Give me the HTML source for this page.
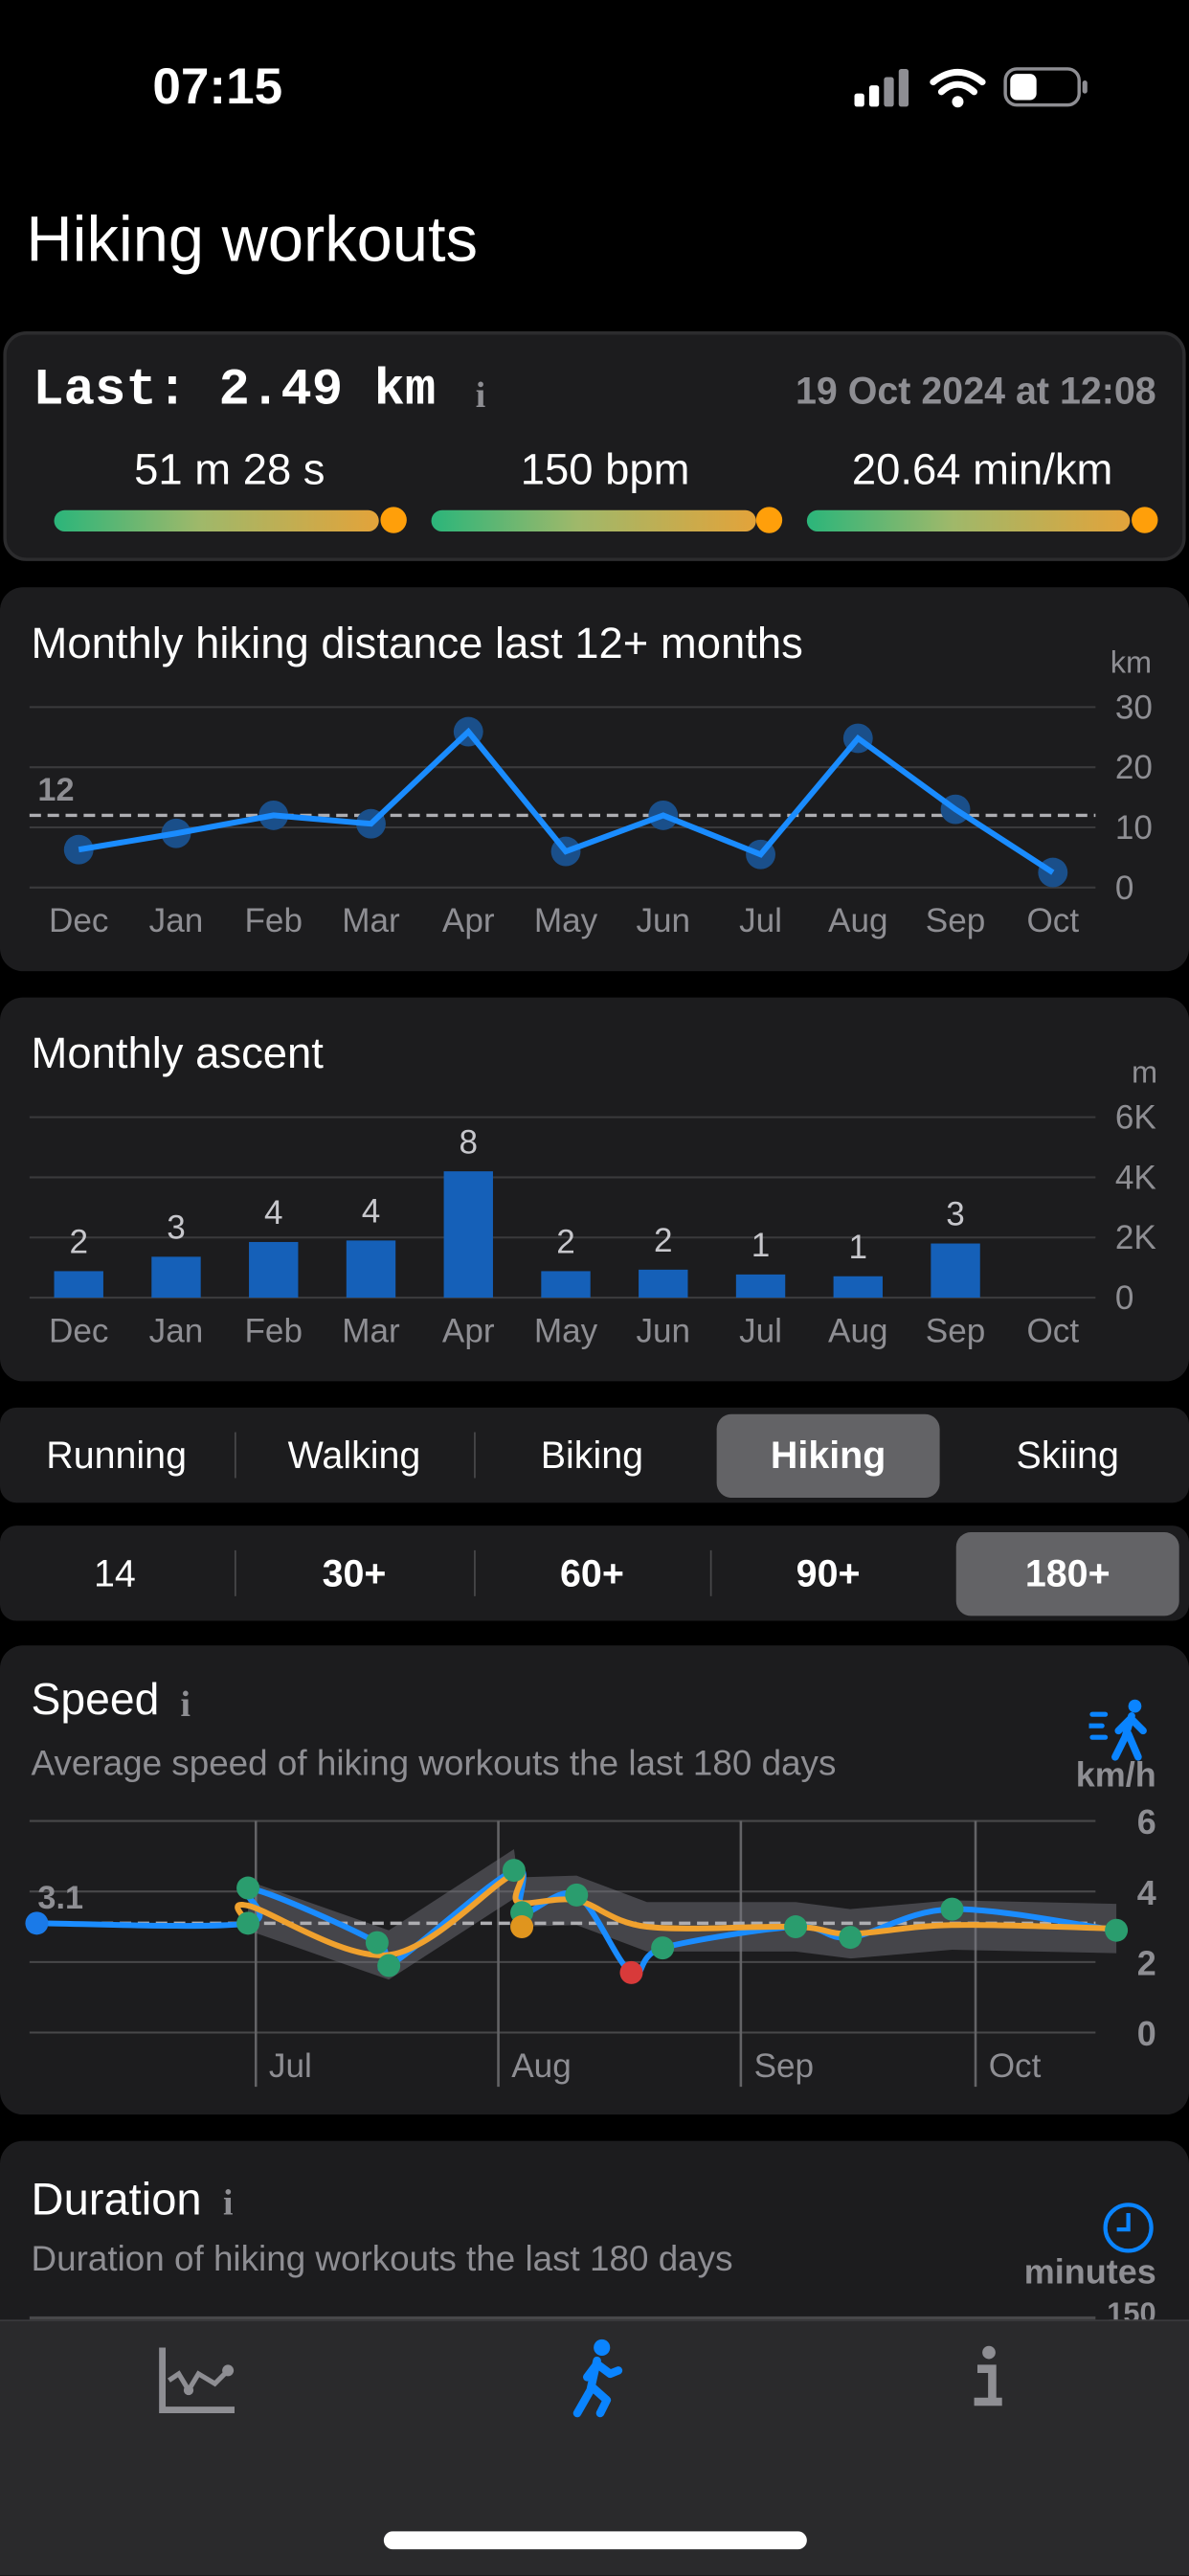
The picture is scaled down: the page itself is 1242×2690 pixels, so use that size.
<!DOCTYPE html>
<html><head><meta charset="utf-8">
<style>
html,body{margin:0;padding:0;background:#000;}
body{width:1242px;height:2688px;overflow:hidden;position:relative;}
#root{position:absolute;left:0;top:0;width:725px;height:1569px;transform:scale(1.71310);transform-origin:0 0;font-family:"Liberation Sans",sans-serif;color:#fff;}
.abs{position:absolute;}
.card{position:absolute;background:#1c1c1e;border-radius:14px;}
.t{position:absolute;white-space:nowrap;}
.grey{color:#8e8e93;}
.seg{position:absolute;left:0;width:725px;height:58px;background:#1c1c1e;border-radius:10px;}
.seg .sel{position:absolute;background:#636366;border-radius:9px;}
.seg .lbl{position:absolute;width:140px;text-align:center;font-size:23px;top:16px;}
.seg .sep{position:absolute;top:15px;width:1px;height:28px;background:#48484a;}
.bar{position:absolute;height:13px;border-radius:7px;background:linear-gradient(90deg,#2bb57a,#9fb86a 45%,#e3a33a);}
.dot{position:absolute;width:16px;height:16px;border-radius:8px;background:#ff9f0a;}
</style></head>
<body>
<div id="root">
  <div class="t" style="left:93px;top:35px;font-size:31px;font-weight:bold;">07:15</div>
  <svg class="abs" style="left:515px;top:38px" width="160" height="30">
    <rect x="6" y="19" width="6" height="8" rx="1.5" fill="#fff"/><rect x="15" y="14" width="6" height="13" rx="1.5" fill="#fff"/><rect x="24" y="9" width="6" height="18" rx="1.5" fill="#8e8e93"/><rect x="33" y="4" width="6" height="23" rx="1.5" fill="#8e8e93"/>
    <path d="M54 12 Q69 0 84 12" stroke="#fff" stroke-width="4" fill="none" stroke-linecap="round"/><path d="M59 18 Q69 9 79 18" stroke="#fff" stroke-width="4" fill="none" stroke-linecap="round"/><circle cx="69" cy="24" r="3.5" fill="#fff"/>
    <rect x="98" y="4" width="45" height="22" rx="7" fill="none" stroke="#8e8e93" stroke-width="2"/><rect x="101" y="7" width="16" height="16" rx="4" fill="#fff"/><rect x="145" y="11" width="3" height="8" rx="1.5" fill="#8e8e93"/>
  </svg>
  <div class="t" style="left:16px;top:125px;font-size:39px;">Hiking workouts</div>

  <div class="card" style="left:2px;top:202px;width:717px;height:136px;border:2px solid #2c2c2e;"></div>
  <div class="t" style="left:20px;top:221px;font-family:'Liberation Mono',monospace;font-weight:bold;font-size:31.5px;">Last: 2.49 km</div>
  <div class="t grey" style="left:290px;top:228px;font-family:'Liberation Serif',serif;font-size:22px;font-weight:bold;">i</div>
  <div class="t grey" style="right:20px;top:225px;font-size:23px;font-weight:bold;">19 Oct 2024 at 12:08</div>
  <div class="t" style="left:40px;width:200px;text-align:center;top:271px;font-size:26.5px;">51 m 28 s</div>
  <div class="t" style="left:269px;width:200px;text-align:center;top:271px;font-size:26.5px;">150 bpm</div>
  <div class="t" style="left:499px;width:200px;text-align:center;top:271px;font-size:26.5px;">20.64 min/km</div>
  <div class="bar" style="left:33px;top:311px;width:198px;"></div><div class="dot" style="left:232px;top:309px;"></div>
  <div class="bar" style="left:263px;top:311px;width:198px;"></div><div class="dot" style="left:461px;top:309px;"></div>
  <div class="bar" style="left:492px;top:311px;width:197px;"></div><div class="dot" style="left:690px;top:309px;"></div>

  <div class="card" style="left:0;top:358px;width:725px;height:234px;"></div>
  <div class="t" style="left:19px;top:377px;font-size:26.5px;">Monthly hiking distance last 12+ months</div>
  <div class="t grey" style="left:677px;top:394px;font-size:19px;">km</div>

  <div class="card" style="left:0;top:608px;width:725px;height:234px;"></div>
  <div class="t" style="left:19px;top:627px;font-size:26.5px;">Monthly ascent</div>
  <div class="t grey" style="left:690px;top:644px;font-size:19px;">m</div>

  <div class="seg" style="top:858px;">
    <div class="sel" style="left:437px;top:4px;width:136px;height:51px;"></div>
    <div class="lbl" style="left:1px;">Running</div>
    <div class="lbl" style="left:146px;">Walking</div>
    <div class="lbl" style="left:291px;">Biking</div>
    <div class="lbl" style="left:435px;font-weight:bold;">Hiking</div>
    <div class="lbl" style="left:581px;">Skiing</div>
    <div class="sep" style="left:143px"></div><div class="sep" style="left:289px"></div>
  </div>
  <div class="seg" style="top:930px;">
    <div class="sel" style="left:583px;top:4px;width:136px;height:51px;"></div>
    <div class="lbl" style="left:0px;">14</div>
    <div class="lbl" style="left:146px;font-weight:bold;">30+</div>
    <div class="lbl" style="left:291px;font-weight:bold;">60+</div>
    <div class="lbl" style="left:435px;font-weight:bold;">90+</div>
    <div class="lbl" style="left:581px;font-weight:bold;">180+</div>
    <div class="sep" style="left:143px"></div><div class="sep" style="left:289px"></div><div class="sep" style="left:433px"></div>
  </div>

  <div class="card" style="left:0;top:1003px;width:725px;height:286px;"></div>
  <div class="t" style="left:19px;top:1021px;font-size:27px;">Speed</div>
  <div class="t grey" style="left:110px;top:1026px;font-family:'Liberation Serif',serif;font-size:22px;font-weight:bold;">i</div>
  <div class="t grey" style="left:19px;top:1063px;font-size:21.5px;">Average speed of hiking workouts the last 180 days</div>
  <svg class="abs" style="left:664px;top:1035px" width="42" height="40">
    <circle cx="28" cy="5" r="4" fill="#0a84ff"/><path d="M26 11 L22 24 L16 36 M24 22 L30 36 M26 13 L33 20 M25 13 L18 20" stroke="#0a84ff" stroke-width="4.5" fill="none" stroke-linecap="round"/>
    <path d="M2 10h8M0 17h8M2 24h8" stroke="#0a84ff" stroke-width="3" stroke-linecap="round"/>
  </svg>
  <div class="t grey" style="right:20px;top:1071px;font-size:21px;font-weight:bold;">km/h</div>

  <div class="card" style="left:0;top:1305px;width:725px;height:264px;"></div>
  <div class="t" style="left:19px;top:1325px;font-size:27.5px;">Duration</div>
  <div class="t grey" style="left:136px;top:1330px;font-family:'Liberation Serif',serif;font-size:22px;font-weight:bold;">i</div>
  <div class="t grey" style="left:19px;top:1365px;font-size:21.5px;">Duration of hiking workouts the last 180 days</div>
  <svg class="abs" style="left:671px;top:1341px" width="34" height="34"><circle cx="17" cy="17" r="14" stroke="#0a84ff" stroke-width="2.5" fill="none"/><path d="M17 8v10h-7" stroke="#0a84ff" stroke-width="2.5" fill="none"/></svg>
  <div class="t grey" style="right:20px;top:1374px;font-size:21px;font-weight:bold;">minutes</div>
  <div class="t grey" style="right:20px;top:1400px;font-size:18px;font-weight:bold;">150</div>
  <div class="abs" style="left:18px;top:1412px;width:650px;height:2px;background:#48484a;"></div>

  <svg id="charts" class="abs" style="left:0;top:0" width="725" height="1569"></svg>

  <div class="abs" style="left:0;top:1414px;width:725px;height:155px;background:#2a2a2c;border-top:1px solid #3a3a3c;">
    <svg class="abs" style="left:95px;top:14px" width="52" height="44"><path d="M4 2V40H48" stroke="#8e8e93" stroke-width="4" fill="none"/><path d="M8 22 L14 18 L20 28 L26 18 L36 24 L44 16" stroke="#8e8e93" stroke-width="3" fill="none"/><circle cx="20" cy="28" r="3" fill="#8e8e93"/><circle cx="44" cy="16" r="3.5" fill="#8e8e93"/></svg>
    <svg class="abs" style="left:340px;top:10px" width="44" height="50"><circle cx="27" cy="6" r="5" fill="#0a84ff"/><path d="M24 14 L20 32 L12 46 M21 30 L30 38 L26 46 M24 16 L32 22 L37 20 M24 16 L18 24" stroke="#0a84ff" stroke-width="5" fill="none" stroke-linecap="round" stroke-linejoin="round"/></svg>
    <svg class="abs" style="left:590px;top:14px" width="26" height="40"><circle cx="13" cy="5" r="4" fill="#8e8e93"/><path d="M6 15h9v20M4 35h17" stroke="#8e8e93" stroke-width="5" fill="none"/></svg>
  </div>
  <div class="abs" style="left:234px;top:1543px;width:258px;height:11px;border-radius:6px;background:#fff;"></div>
</div>
<script>
const distMonths=["Dec","Jan","Feb","Mar","Apr","May","Jun","Jul","Aug","Sep","Oct"];
const distValues=[6.3,9,12,10.6,25.9,6,12,5.5,24.8,13,2.5];
const distTicks=[0,10,20,30];
const distAvg=12;
const ascentMonths=["Dec","Jan","Feb","Mar","Apr","May","Jun","Jul","Aug","Sep","Oct"];
const ascentValues=[880,1360,1850,1900,4200,880,930,770,710,1800,0];
const ascentCounts=["2","3","4","4","8","2","2","1","1","3",""];
const ascentTicks=[0,2000,4000,6000];
const ascentTickLabels=["0","2K","4K","6K"];
const speedDays=[-28,-1,-1,15.5,17,33,34,41,48,52,69,76,89,110];
const speedValues=[3.1,3.1,4.1,2.55,1.9,4.6,3.4,3.9,1.7,2.4,3.0,2.7,3.5,2.9];
const speedDotKinds=["blue","green","green","green","green","green","green","green","red","green","green","green","green","green"];
const trendDays=[-1,-1,17,33,33.5,41,50,69,76,89,110];
const trendValues=[3.1,3.6,2.2,4.5,3.7,3.75,3.0,3.0,2.8,3.05,2.95];
const trendBand=0.7;
const speedTicks=[0,2,4,6];
const speedAvg=3.1;
const monthStartDays=[0,31,62,92];
const monthStartLabels=["Jul","Aug","Sep","Oct"];

const NS="http://www.w3.org/2000/svg";
const svg=document.getElementById('charts');
function mk(tag,attrs,parent){const e=document.createElementNS(NS,tag);for(const k in attrs)e.setAttribute(k,attrs[k]);(parent||svg).appendChild(e);return e;}
function txt(x,y,s,attrs){const e=mk('text',Object.assign({x:x,y:y,fill:'#8e8e93','font-family':'Liberation Sans, sans-serif'},attrs));e.textContent=s;return e;}
function smooth(pts){let d='M'+pts[0][0]+' '+pts[0][1];for(let i=0;i<pts.length-1;i++){const p0=pts[Math.max(0,i-1)],p1=pts[i],p2=pts[i+1],p3=pts[Math.min(pts.length-1,i+2)];const c1x=p1[0]+(p2[0]-p0[0])/6,c1y=p1[1]+(p2[1]-p0[1])/6,c2x=p2[0]-(p3[0]-p1[0])/6,c2y=p2[1]-(p3[1]-p1[1])/6;d+=' C'+c1x+' '+c1y+' '+c2x+' '+c2y+' '+p2[0]+' '+p2[1];}return d;}

const dx=i=>48+i*59.4, dy=v=>541-v*(110/30);
distTicks.forEach(t=>{const l=mk('line',{x1:18,x2:668,y1:dy(t),y2:dy(t),stroke:'#3a3a3c','stroke-width':1.2});


const tx=txt(680,dy(t)+7,String(t),{'font-size':20.5});

});
const da=mk('line',{x1:18,x2:668,y1:dy(distAvg),y2:dy(distAvg),stroke:'#aeaeb2','stroke-width':2,'stroke-dasharray':'7 4'});


const dal=txt(23,dy(distAvg)-9,String(distAvg),{'font-size':20,'font-weight':'bold'});


distValues.forEach((v,i)=>{const c=mk('circle',{cx:dx(i),cy:dy(v),r:9,fill:'#1a4f8a'});

});
const dl=mk('polyline',{points:distValues.map((v,i)=>dx(i)+','+dy(v)).join(' '),fill:'none',stroke:'#1a8cff','stroke-width':3.5});


distMonths.forEach((m,i)=>{const t=txt(dx(i),568,m,{'font-size':20.5,'text-anchor':'middle'});

});

const ax=i=>48+i*59.4, ay=v=>791-v*(110/6000);
ascentTicks.forEach((t,i)=>{const l=mk('line',{x1:18,x2:668,y1:ay(t),y2:ay(t),stroke:'#3a3a3c','stroke-width':1.2});


const tx=txt(680,ay(t)+7,ascentTickLabels[i],{'font-size':20.5});

});
ascentValues.forEach((v,i)=>{if(v>0){const r=mk('rect',{x:ax(i)-15,y:ay(v),width:30,height:ay(0)-ay(v),fill:'#1560b8'});

}
if(ascentCounts[i]){const t=txt(ax(i),ay(v)-11,ascentCounts[i],{'font-size':20.5,fill:'#c7c7cc','text-anchor':'middle'});

}});
ascentMonths.forEach((m,i)=>{const t=txt(ax(i),818,m,{'font-size':20.5,'text-anchor':'middle'});

});

const sx=d=>156+d*4.77, sy=v=>1239-v*(129/6);
speedTicks.forEach(t=>{const l=mk('line',{x1:18,x2:668,y1:sy(t),y2:sy(t),stroke:'#48484a','stroke-width':1.2});


const tx=txt(705,sy(t)+8,String(t),{'font-size':21,'font-weight':'bold','text-anchor':'end'});

});
monthStartDays.forEach((d,i)=>{const l=mk('line',{x1:sx(d),x2:sx(d),y1:1110,y2:1272,stroke:'#636366','stroke-width':1.5});


const t=txt(sx(d)+8,1266,monthStartLabels[i],{'font-size':20.5});

});
const up=trendDays.map((d,i)=>sx(d)+','+sy(trendValues[i]+trendBand));
const lo=trendDays.map((d,i)=>sx(d)+','+sy(trendValues[i]-trendBand)).reverse();
const band=mk('polygon',{points:up.concat(lo).join(' '),fill:'rgba(120,120,128,0.45)'});


const sa=mk('line',{x1:18,x2:668,y1:sy(speedAvg),y2:sy(speedAvg),stroke:'#aeaeb2','stroke-width':2,'stroke-dasharray':'7 4'});


const sal=txt(23,sy(speedAvg)-9,String(speedAvg),{'font-size':20,'font-weight':'bold'});


const sl=mk('path',{d:smooth(speedDays.map((d,i)=>[sx(d),sy(speedValues[i])])),fill:'none',stroke:'#1a8cff','stroke-width':3.5});


const tl=mk('path',{d:smooth(trendDays.map((d,i)=>[sx(d),sy(trendValues[i])])),fill:'none',stroke:'#f0a12e','stroke-width':3.5});


const dotColors={blue:'#1a7ae8',green:'#2a9d6e',red:'#d83a3a'};
speedDays.forEach((d,i)=>{const c=mk('circle',{cx:sx(d),cy:sy(speedValues[i]),r:7,fill:dotColors[speedDotKinds[i]]});

});
const od=mk('circle',{cx:sx(34),cy:sy(3.0),r:7,fill:'#e0951e'});


</script>
</body></html>
